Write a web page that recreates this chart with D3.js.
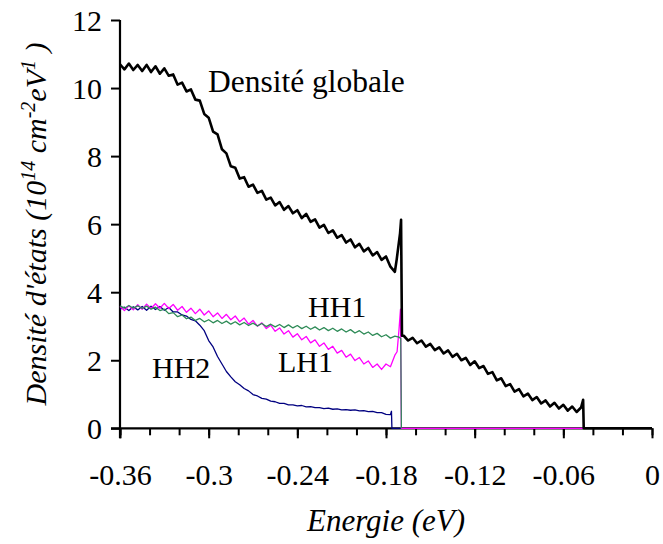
<!DOCTYPE html>
<html>
<head>
<meta charset="utf-8">
<script src="https://cdn.jsdelivr.net/npm/d3@7"></script>
<style>
  body { margin: 0; background: #fff; }
  text { font-family: "Liberation Serif", "Times New Roman", serif; fill: #000; }
</style>
</head>
<body>
<svg id="mainsvg" width="663" height="544"></svg>
<script>
// grille d'énergie (eV), partie avant la marche
const energieA = [
  -0.360,-0.357,-0.354,-0.351,-0.348,-0.345,-0.342,-0.339,-0.336,-0.333,
  -0.330,-0.327,-0.324,-0.321,-0.318,-0.315,-0.312,-0.309,-0.306,-0.303,
  -0.300,-0.297,-0.294,-0.291,-0.288,-0.285,-0.282,-0.279,-0.276,-0.273,
  -0.270,-0.267,-0.264,-0.261,-0.258,-0.255,-0.252,-0.249,-0.246,-0.243,
  -0.240,-0.237,-0.234,-0.231,-0.228,-0.225,-0.222,-0.219,-0.216,-0.213,
  -0.210,-0.207,-0.204,-0.201,-0.198,-0.195,-0.192,-0.189,-0.186,-0.183,
  -0.180,-0.177,-0.174
]
// grille après la marche (densité globale seulement)
const energieB = [
  -0.168,-0.165,-0.162,-0.159,-0.156,-0.153,-0.150,-0.147,-0.144,-0.141,
  -0.138,-0.135,-0.132,-0.129,-0.126,-0.123,-0.120,-0.117,-0.114,-0.111,
  -0.108,-0.105,-0.102,-0.099,-0.096,-0.093,-0.090,-0.087,-0.084,-0.081,
  -0.078,-0.075,-0.072,-0.069,-0.066,-0.063,-0.060,-0.057,-0.054,-0.051,
  -0.048
]

const globaleA = [
  10.70,10.55,10.72,10.53,10.68,10.50,10.68,10.47,10.64,10.42,
  10.58,10.36,10.40,10.10,10.16,9.90,9.96,9.66,9.63,9.24,
  9.13,8.72,8.64,8.20,8.08,7.70,7.66,7.34,7.38,7.10,
  7.16,6.92,6.98,6.72,6.78,6.55,6.65,6.42,6.53,6.32,
  6.41,6.18,6.30,6.07,6.14,5.90,5.98,5.74,5.82,5.60,
  5.68,5.46,5.55,5.32,5.42,5.20,5.30,5.08,5.18,4.95,
  5.05,4.75,4.60
]
const globaleSaut = [[-0.1728, 4.95], [-0.1705, 5.73], [-0.1698, 6.13], [-0.1692, 2.72]]
const globaleB = [
  2.72,2.58,2.66,2.50,2.58,2.40,2.48,2.30,2.38,2.20,
  2.29,2.10,2.19,2.00,2.07,1.86,1.97,1.77,1.83,1.60,
  1.65,1.41,1.47,1.24,1.30,1.08,1.15,0.94,1.02,0.83,
  0.92,0.73,0.82,0.64,0.75,0.58,0.69,0.52,0.64,0.48,
  0.61
]
const globaleFin = [[-0.0466, 0.84], [-0.0462, 0], [0, 0]]

const hh1 = [
  3.60,3.53,3.61,3.53,3.60,3.52,3.59,3.50,3.56,3.46,
  3.50,3.37,3.40,3.28,3.33,3.22,3.27,3.17,3.23,3.13,
  3.19,3.10,3.17,3.08,3.15,3.06,3.13,3.04,3.11,3.02,
  3.09,3.01,3.08,2.99,3.06,2.98,3.05,2.96,3.04,2.95,
  3.02,2.93,3.00,2.91,2.98,2.89,2.96,2.87,2.94,2.85,
  2.92,2.83,2.90,2.80,2.87,2.77,2.83,2.73,2.79,2.69,
  2.75,2.65,2.71
]
const hh1Fin = [[-0.1712, 2.68], [-0.1700, 2.64], [-0.1696, 0]]

const lh1 = [
  3.58,3.46,3.60,3.48,3.63,3.50,3.65,3.52,3.66,3.53,
  3.67,3.52,3.64,3.47,3.58,3.41,3.53,3.37,3.50,3.33,
  3.45,3.28,3.39,3.23,3.35,3.19,3.30,3.13,3.24,3.06,
  3.17,3.00,3.10,2.93,3.03,2.85,2.95,2.77,2.87,2.68,
  2.78,2.60,2.70,2.51,2.60,2.41,2.51,2.32,2.41,2.21,
  2.29,2.09,2.18,1.99,2.08,1.89,1.98,1.79,1.89,1.73,
  1.89,1.81,2.15
]
const lh1Fin = [[-0.1725, 2.25], [-0.1712, 2.9], [-0.1702, 3.5], [-0.1696, 0], [-0.0462, 0]]

const hh2 = [
  3.50,3.56,3.46,3.57,3.48,3.58,3.47,3.59,3.49,3.58,
  3.47,3.55,3.42,3.42,3.33,3.30,3.20,3.16,3.03,2.87,
  2.58,2.39,2.11,1.89,1.67,1.51,1.37,1.28,1.17,1.10,
  0.99,0.95,0.88,0.86,0.80,0.78,0.73,0.73,0.69,0.69,
  0.66,0.67,0.63,0.64,0.61,0.61,0.58,0.59,0.56,0.57,
  0.54,0.55,0.53,0.54,0.51,0.52,0.49,0.50,0.46,0.46,
  0.41,0.40
]
const hh2Fin = [[-0.1763, 0.50], [-0.1760, 0], [-0.1696, 0]]

const xTicksMajeurs = [-0.36, -0.30, -0.24, -0.18, -0.12, -0.06, 0]
const xTickLabels = ["-0.36", "-0.3", "-0.24", "-0.18", "-0.12", "-0.06", "0"]
const yTicks = [0, 2, 4, 6, 8, 10, 12]

const svg = d3.select('#mainsvg')
const width = +svg.attr("width")
const height = +svg.attr("height")
const margin = { top: 20, right: 11, bottom: 115.7, left: 120 }

const xScale = d3.scaleLinear().domain([-0.36, 0]).range([margin.left, width - margin.right])
const yScale = d3.scaleLinear().domain([0, 12]).range([height - margin.bottom, margin.top])

const pts = (xs, ys) => ys.map((v, i) => [xs[i], v])

const series = [
  { color: "#000080", w: 1.3, d: pts(energieA, hh2).concat(hh2Fin) },
  { color: "#ff00ff", w: 1.3, d: pts(energieA, lh1).concat(lh1Fin) },
  { color: "#2e8b57", w: 1.3, d: pts(energieA, hh1).concat(hh1Fin) },
  { color: "#000000", w: 2.6, d: pts(energieA, globaleA).concat(globaleSaut, pts(energieB, globaleB), globaleFin) },
]

// axes
const x0 = yScale(0)
const xMinor = d3.axisBottom(xScale).tickValues(d3.range(-0.36, 0.001, 0.02)).tickSize(7).tickFormat("")
svg.append("g").attr("transform", `translate(0,${x0})`).call(xMinor)

const xAxis = d3.axisBottom(xScale).tickValues(xTicksMajeurs).tickSize(10).tickPadding(25)
  .tickFormat((d, i) => xTickLabels[i])
const gx = svg.append("g").attr("transform", `translate(0,${x0})`).call(xAxis)

const yAxis = d3.axisLeft(yScale).tickValues(yTicks).tickSize(9).tickPadding(9).tickFormat(d3.format("d"))
const gy = svg.append("g").attr("transform", `translate(${margin.left},0)`).call(yAxis)

svg.selectAll(".domain").remove()
svg.selectAll(".tick line").attr("stroke", "#000").attr("stroke-width", 2)
svg.selectAll(".tick text").attr("font-size", "30px").attr("font-family", "Liberation Serif").attr("fill", "#000")
gy.selectAll(".tick text").attr("dy", "0.34em")

svg.append("line").attr("x1", margin.left - 9).attr("x2", width - margin.right)
  .attr("y1", x0).attr("y2", x0).attr("stroke", "#000").attr("stroke-width", 2.2)
svg.append("line").attr("x1", margin.left).attr("x2", margin.left)
  .attr("y1", yScale(12)).attr("y2", x0 + 10).attr("stroke", "#000").attr("stroke-width", 2.2)

// courbes
const line = d3.line().x(d => xScale(d[0])).y(d => yScale(d[1]))
series.forEach(s => {
  svg.append("path").attr("d", line(s.d)).attr("fill", "none")
    .attr("stroke", s.color).attr("stroke-width", s.w).attr("stroke-linejoin", "round")
})

// étiquettes
const lab = (t, x, y, fs) => svg.append("text").text(t).attr("x", x).attr("y", y).attr("font-size", fs)
lab("Densité globale", 208, 92, "31.5px")
lab("HH1", 308, 317, "30px")
lab("LH1", 278, 372, "30px")
lab("HH2", 152, 378, "30px")

// titres des axes
svg.append("text").attr("x", 386).attr("y", 531)
  .attr("text-anchor", "middle").attr("font-size", "31px").attr("font-style", "italic")
  .text("Energie (eV)")

const yt = svg.append("text").attr("transform", "translate(46,224) rotate(-90)")
  .attr("text-anchor", "middle").attr("font-size", "30px").attr("font-style", "italic")
yt.append("tspan").text("Densité d'états (10")
yt.append("tspan").text("14").attr("font-size", "20px").attr("dy", "-11")
yt.append("tspan").text(" cm").attr("dy", "11")
yt.append("tspan").text("-2").attr("font-size", "20px").attr("dy", "-11")
yt.append("tspan").text("eV").attr("dy", "11")
yt.append("tspan").text("1").attr("font-size", "20px").attr("dy", "-11")
yt.append("tspan").text(" )").attr("dy", "11")
</script>
</body>
</html>
